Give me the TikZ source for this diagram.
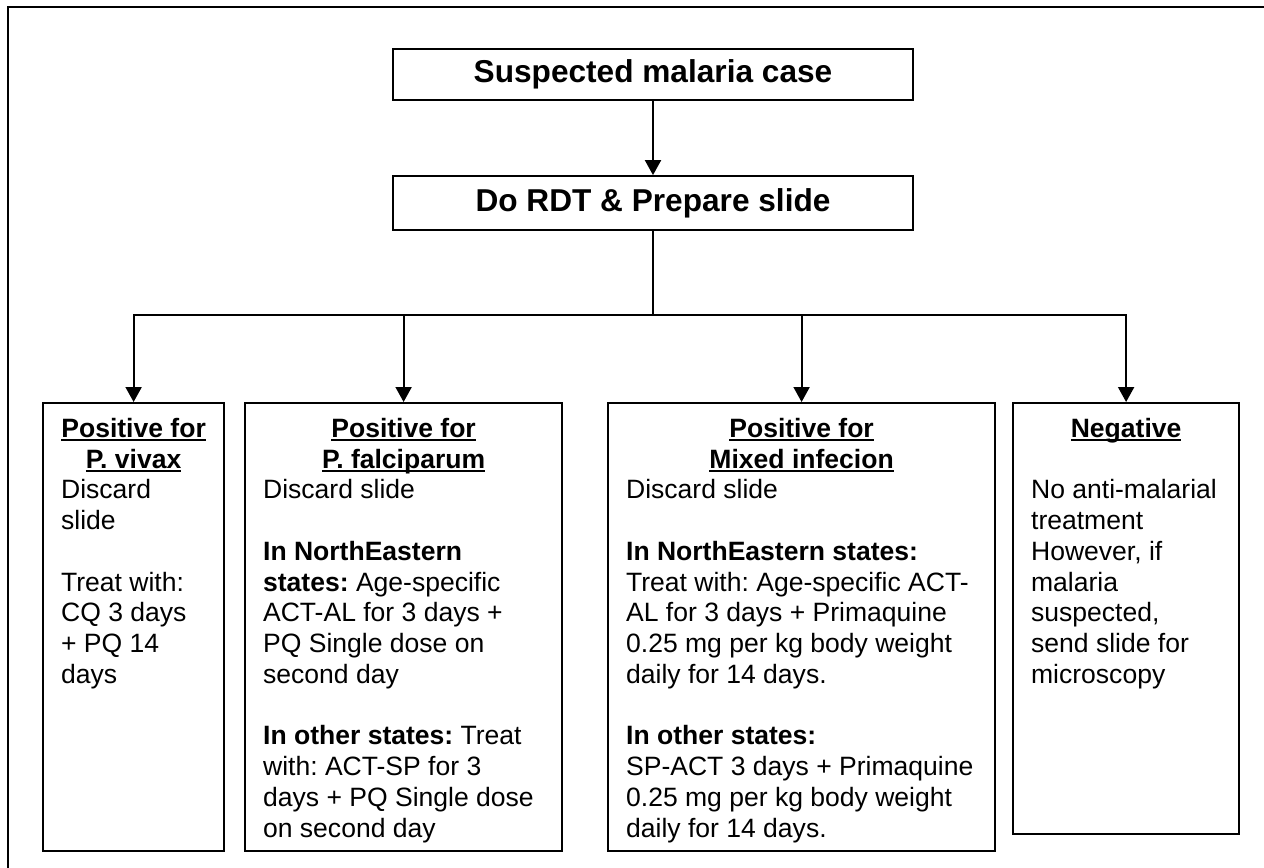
\documentclass[tikz,border=0pt]{standalone}
\usepackage{fontspec}
\setmainfont{Liberation Sans}
\usetikzlibrary{arrows.meta,positioning}
\frenchspacing
\newcommand{\leafhead}[1]{\leavevmode\sbox0{\bfseries #1}\rlap{\rule[-0.15em]{\wd0}{0.075em}}\usebox0}
\newcommand{\leafbody}[3]{\parbox[t][#2][t]{#1}{\fontsize{15.1pt}{17.5pt}\selectfont\frenchspacing #3}}
\tikzset{
  malstep/.style={
    rectangle,
    draw=black,
    line width=0.045cm,
    minimum width=10.4cm,
    inner sep=0pt,
    font=\bfseries\fontsize{18pt}{21pt}\selectfont
  },
  malleaf/.style={
    rectangle,
    draw=black,
    line width=0.045cm,
    anchor=north west,
    inner xsep=0.36cm,
    inner ysep=0.3cm
  },
  malline/.style={line width=0.04cm},
  malarrow/.style={malline, -{Triangle[width=0.32cm,length=0.3cm]}}
}
\begin{document}
\begin{tikzpicture}[x=0.02cm, y=-0.02cm]
\useasboundingbox (0,0) rectangle (1264,867);
\draw[line width=0.05cm] (1270,7) -- (8,7) -- (8,875);
\node[malstep, minimum height=1.02cm] (case) at (653,74.5) {Suspected malaria case};
\node[malstep, minimum height=1.08cm, below=1.48cm of case] (rdt) {Do RDT \& Prepare slide};
\coordinate (split) at (653,315);
\node[malleaf] (vivax) at (42,402) {\leafbody{2.9cm}{8.36cm}{%
{\centering\leafhead{Positive for}\\\leafhead{P. vivax}\par}
Discard\\slide\\[\baselineskip]Treat with:\\CQ 3 days\\+ PQ 14\\days}};
\node[malleaf] (falci) at (244,402) {\leafbody{5.62cm}{8.36cm}{%
{\centering\leafhead{Positive for}\\\leafhead{P. falciparum}\par}
Discard slide\\[\baselineskip]\textbf{In NorthEastern}\\\textbf{states:} Age-specific\\ACT-AL for 3 days +\\PQ Single dose on\\second day\\[\baselineskip]\textbf{In other states:} Treat\\with: ACT-SP for 3\\days + PQ Single dose\\on second day}};
\node[malleaf] (mixed) at (607,402) {\leafbody{7.02cm}{8.36cm}{%
{\centering\leafhead{Positive for}\\\leafhead{Mixed infecion}\par}
Discard slide\\[\baselineskip]\textbf{In NorthEastern states:}\\Treat with: Age-specific ACT-\\AL for 3 days + Primaquine\\0.25 mg per kg body weight\\daily for 14 days.\\[\baselineskip]\textbf{In other states:}\\SP-ACT 3 days + Primaquine\\0.25 mg per kg body weight\\daily for 14 days.}};
\node[malleaf] (negative) at (1012,402) {\leafbody{3.8cm}{8.02cm}{%
{\centering\leafhead{Negative}\par}\vspace{\baselineskip}
No anti-malarial\\treatment\\However, if\\malaria\\suspected,\\send slide for\\microscopy}};
\draw[malarrow] (case) -- (rdt);
\draw[malline] (rdt.south) -- (split);
\draw[malarrow] (split) -| (vivax.north);
\draw[malarrow] (split) -| (falci.north);
\draw[malarrow] (split) -| (mixed.north);
\draw[malarrow] (split) -| (negative.north);
\end{tikzpicture}
\end{document}
